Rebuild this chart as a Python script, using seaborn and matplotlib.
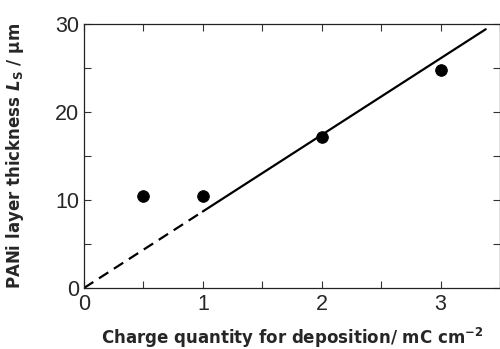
import numpy as np
import pandas as pd
import matplotlib
matplotlib.use("Agg")
import matplotlib.pyplot as plt
import seaborn as sns

# data
charge = [0.5, 1.0, 2.0, 3.0]
thickness = [10.4, 10.4, 17.2, 24.8]
fit_slope = 8.7              # um per mC cm-2, line through origin
dashed_range = [0.0, 1.0]
solid_range = [1.0, 3.38]
x_ticks = [0, 1, 2, 3]
y_ticks = [0, 10, 20, 30]

sns.set_style("ticks")
plt.rcParams["font.family"] = ["Liberation Sans", "DejaVu Sans"]

df = pd.DataFrame({"charge": charge, "thickness": thickness})
dashed = pd.DataFrame({"q": dashed_range,
                       "L": [fit_slope * q for q in dashed_range]})
solid = pd.DataFrame({"q": solid_range,
                      "L": [fit_slope * q for q in solid_range]})

fig = plt.figure(figsize=(5, 3.49), dpi=100)
ax = fig.add_axes([84 / 500, 61 / 349, 416 / 500, 264 / 349])

sns.lineplot(data=dashed, x="q", y="L", ax=ax, color="black", lw=1.6,
             dashes=False, linestyle=(0, (5, 3)))
sns.lineplot(data=solid, x="q", y="L", ax=ax, color="black", lw=1.6)
sns.scatterplot(data=df, x="charge", y="thickness", ax=ax, color="black",
                s=70, edgecolor="black", zorder=3)

ax.set_xlim(0, 3.5)
ax.set_ylim(0, 30)
ax.set_xticks(x_ticks)
ax.set_yticks(y_ticks)
ax.set_xticks([0.5, 1.5, 2.5, 3.5], minor=True)
ax.set_yticks([5, 15, 25], minor=True)
ax.tick_params(which="both", direction="in", top=True, right=True,
               labelsize=15.5, width=0.8, color="#333333", length=5)
ax.tick_params(axis="x", pad=4)
for sp in ax.spines.values():
    sp.set_linewidth(0.9)
    sp.set_color("#222222")

lab = dict(fontsize=12, fontweight="bold", family="DejaVu Sans")
ax.set_xlabel(r"Charge quantity for deposition/ mC cm$^{\mathbf{-2}}$", **lab)
ax.set_ylabel(r"PANi layer thickness $\boldsymbol{L}_\mathbf{S}$ / μm", **lab)
ax.xaxis.set_label_coords(0.5, -0.145)
ax.yaxis.set_label_coords(-0.14, 0.5)

fig.savefig("out.png", dpi=100)
